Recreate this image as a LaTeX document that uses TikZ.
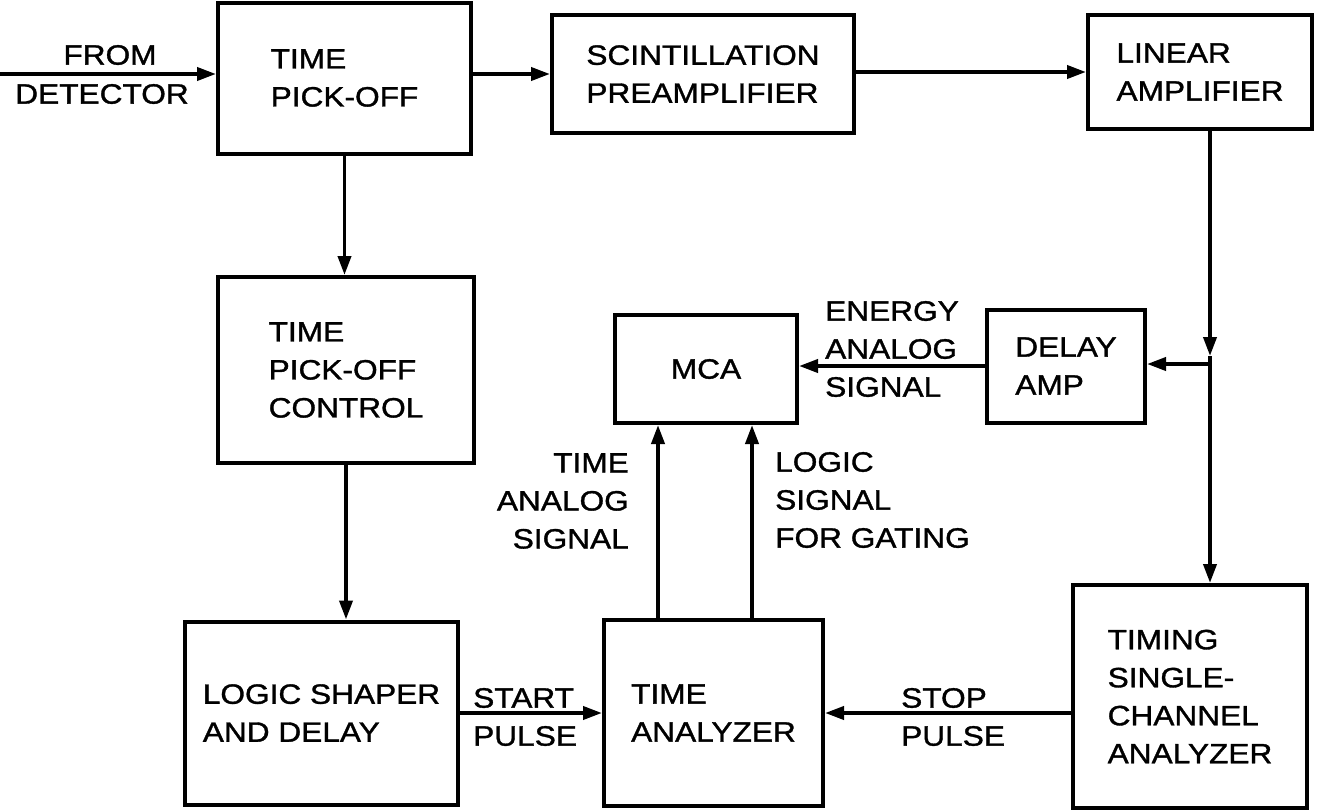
\documentclass[tikz,border=0pt]{standalone}
\usepackage{fontspec}
\setmainfont{Liberation Sans}[FakeStretch=1.13,FakeBold=1.2]
\usetikzlibrary{arrows.meta}
\begin{document}
\begin{tikzpicture}[x=1pt,y=-1pt,
  font=\fontsize{28}{38}\selectfont,
  blk/.style={draw,line width=4pt,inner sep=0pt,align=left},
  lbl/.style={inner sep=0pt},
  arr/.style={line width=3.8pt,-{Triangle[length=19pt,width=13pt]}},
  ln/.style={line width=3.8pt}]
\useasboundingbox (0,0) rectangle (1318,811);
% blocks
\node[blk,minimum width=253pt,minimum height=151pt] (tpo) at (344.5,78) {TIME\\PICK-OFF};
\node[blk,minimum width=302pt,minimum height=118pt] (scint) at (703,74) {SCINTILLATION\\PREAMPLIFIER};
\node[blk,minimum width=224pt,minimum height=114pt] (lin) at (1200,72) {LINEAR\\AMPLIFIER};
\node[blk,minimum width=256pt,minimum height=186pt] (ctl) at (346,370) {TIME\\PICK-OFF\\CONTROL};
\node[blk,minimum width=182pt,minimum height=108pt] (mca) at (706,369) {MCA};
\node[blk,minimum width=158pt,minimum height=113pt] (dly) at (1066,366) {DELAY\\AMP};
\node[blk,minimum width=273pt,minimum height=183pt] (lsd) at (321.5,713) {LOGIC SHAPER\\AND DELAY};
\node[blk,minimum width=219pt,minimum height=186pt] (ta) at (713.5,713) {TIME\\ANALYZER};
\node[blk,minimum width=234pt,minimum height=223pt] (tsca) at (1190,696.5) {TIMING\\SINGLE-\\CHANNEL\\ANALYZER};
% labels
\node[lbl] (lfrom) at (110,55) {FROM};
\node[lbl] (ldet) at (102,94) {DETECTOR};
\node[lbl,anchor=west,align=left] (lenergy) at (825,349) {ENERGY\\ANALOG\\SIGNAL};
\node[lbl,anchor=east,align=right] (ltime) at (629,501) {TIME\\ANALOG\\SIGNAL};
\node[lbl,anchor=west,align=left] (llogic) at (775,500) {LOGIC\\SIGNAL\\FOR GATING};
\node[lbl,anchor=west,align=left] (lstart) at (473,717) {START\\PULSE};
\node[lbl,anchor=west,align=left] (lstop) at (901,717) {STOP\\PULSE};
% connectors
\coordinate (src) at (0,74);
\draw[arr] (src) -- (src -| tpo.west);
\draw[arr] (tpo.east |- scint.west) -- (scint.west);
\draw[arr] (scint.east |- lin.west) -- (lin.west);
\draw[arr] (tpo.south) -- (tpo.south |- ctl.north);
\draw[arr] (ctl.south) -- (ctl.south |- lsd.north);
\coordinate (j) at (1210,364);
\coordinate (jt) at (1210,356);
\draw[arr] (j |- lin.south) -- (jt);
\draw[ln] (jt) -- (j);
\draw[arr] (j) -- (j |- tsca.north);
\draw[arr] (j) -- (j -| dly.east);
\draw[arr] (dly.west) -- (dly.west -| mca.east);
\draw[arr] ([xshift=-55.5pt]ta.north) -- ([xshift=-55.5pt]ta.north |- mca.south);
\draw[arr] ([xshift=38.5pt]ta.north) -- ([xshift=38.5pt]ta.north |- mca.south);
\draw[arr] (lsd.east) -- (ta.west);
\draw[arr] (tsca.west |- ta.east) -- (ta.east);
\end{tikzpicture}
\end{document}
